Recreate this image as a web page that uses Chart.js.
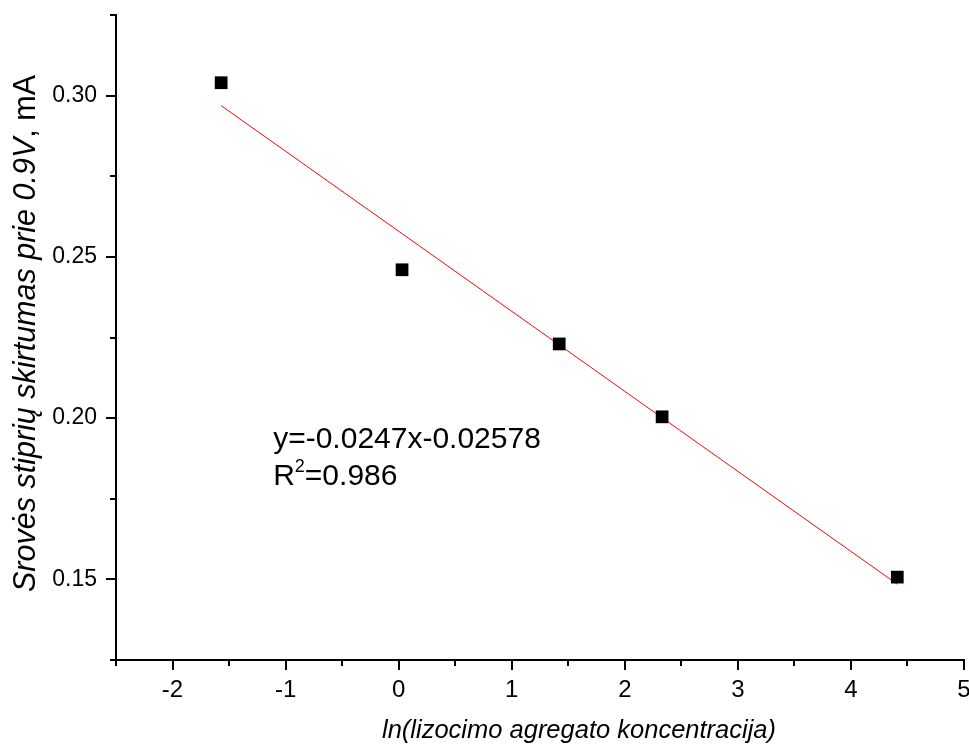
<!DOCTYPE html>
<html>
<head>
<meta charset="utf-8">
<script src="https://cdn.jsdelivr.net/npm/chart.js@4/dist/chart.umd.min.js"></script>
<style>
html,body{margin:0;padding:0;background:#fff;}
#wrap{width:969px;height:751px;position:relative;}
</style>
</head>
<body>
<div id="wrap"><canvas id="c" width="969" height="751"></canvas></div>
<script>
// ---- data ----
const xValues = [-1.57, 0.03, 1.42, 2.33, 4.41];
const yValues = [0.304, 0.246, 0.223, 0.2004, 0.1507];
const fitX = [-1.57, 4.41];
const fitY = [0.2969, 0.1485];
const xTitle = 'ln(lizocimo agregato koncentracija)';
const yTitleParts = ['Srovės stiprių skirtumas prie ', '0.9V', ', mA'];
const eqText = 'y=-0.0247x-0.02578';
const r2Parts = ['R', '2', '=0.986'];
const eqAnchor = [-1.11, 0.1906];

const FONT = "'Liberation Sans', Arial, sans-serif";
const AREA_RIGHT = 964;
const AREA_TOP = 15;

const areaFix = {
  id: 'areaFix',
  afterLayout(chart) {
    const xs = chart.scales.x, ys = chart.scales.y;
    xs.right = AREA_RIGHT;
    xs.width = xs.right - xs.left;
    xs.configure();
    ys.top = AREA_TOP;
    ys.height = ys.bottom - ys.top;
    ys.configure();
    chart.chartArea.right = AREA_RIGHT;
    chart.chartArea.width = AREA_RIGHT - chart.chartArea.left;
    chart.chartArea.top = AREA_TOP;
    chart.chartArea.height = chart.chartArea.bottom - AREA_TOP;
  }
};

const ticksPlugin = {
  id: 'customTicks',
  afterDraw(chart) {
    const ctx = chart.ctx;
    const xs = chart.scales.x, ys = chart.scales.y;
    const area = chart.chartArea;
    ctx.save();
    ctx.strokeStyle = '#000';
    ctx.lineWidth = 2;
    // x ticks
    for (let v = -2.5; v <= 5.0001; v += 0.5) {
      const px = Math.round(xs.getPixelForValue(v));
      const major = Math.abs(v - Math.round(v)) < 1e-6;
      const len = major ? 10 : 6;
      ctx.beginPath();
      ctx.moveTo(px, area.bottom);
      ctx.lineTo(px, area.bottom + len);
      ctx.stroke();
    }
    // y ticks
    for (let i = 0; i <= 8; i++) {
      const v = 0.125 + i * 0.025;
      const py = Math.round(ys.getPixelForValue(v));
      const major = i % 2 === 1;
      const len = major ? 10 : 6;
      ctx.beginPath();
      ctx.moveTo(area.left, py);
      ctx.lineTo(area.left - len, py);
      ctx.stroke();
    }
    // y title
    ctx.fillStyle = '#000';
    ctx.translate(35, (area.top + area.bottom) / 2 - 4);
    ctx.rotate(-Math.PI / 2);
    const fonts = ['italic 30.5px ' + FONT, 'italic 30.5px ' + FONT, '30.5px ' + FONT];
    let total = 0;
    const widths = yTitleParts.map((t, i) => { ctx.font = fonts[i]; const w = ctx.measureText(t).width; total += w; return w; });
    let x0 = -total / 2;
    ctx.textBaseline = 'alphabetic';
    ctx.textAlign = 'left';
    yTitleParts.forEach((t, i) => { ctx.font = fonts[i]; ctx.fillText(t, x0, 0); x0 += widths[i]; });
    ctx.restore();

    // x title
    ctx.save();
    ctx.fillStyle = '#000';
    ctx.font = 'italic 25.5px ' + FONT;
    ctx.textAlign = 'center';
    ctx.textBaseline = 'alphabetic';
    ctx.fillText(xTitle, 579, 738);
    ctx.restore();

    // equation annotation
    ctx.save();
    ctx.fillStyle = '#000';
    ctx.textBaseline = 'alphabetic';
    ctx.textAlign = 'left';
    const ax = xs.getPixelForValue(eqAnchor[0]);
    const ay = ys.getPixelForValue(eqAnchor[1]);
    ctx.font = '30px ' + FONT;
    ctx.fillText(eqText, ax, ay);
    let rx = ax;
    const ry = ay + 37;
    ctx.fillText(r2Parts[0], rx, ry); rx += ctx.measureText(r2Parts[0]).width;
    ctx.font = '18px ' + FONT;
    ctx.fillText(r2Parts[1], rx, ry - 13); rx += ctx.measureText(r2Parts[1]).width;
    ctx.font = '30px ' + FONT;
    ctx.fillText(r2Parts[2], rx, ry);
    ctx.restore();
  }
};

new Chart(document.getElementById('c'), {
  type: 'scatter',
  data: {
    datasets: [
      {
        label: 'fit',
        data: fitX.map((x, i) => ({x, y: fitY[i]})),
        showLine: true,
        borderColor: '#ff0000',
        borderWidth: 1,
        pointRadius: 0,
        order: 2
      },
      {
        label: 'data',
        data: xValues.map((x, i) => ({x, y: yValues[i]})),
        pointStyle: 'rect',
        pointRadius: 9,
        pointBackgroundColor: '#000',
        pointBorderColor: '#000',
        pointBorderWidth: 0,
        order: 1
      }
    ]
  },
  options: {
    responsive: false,
    animation: false,
    layout: { padding: { top: 15, right: 1, left: 0, bottom: 0 } },
    plugins: { legend: { display: false }, tooltip: { enabled: false } },
    scales: {
      x: {
        type: 'linear',
        min: -2.5, max: 5,
        afterFit(s) { s.height = 91; },
        ticks: {
          stepSize: 0.5,
          autoSkip: false,
          maxRotation: 0,
          padding: 6,
          color: '#000',
          font: { family: FONT, size: 24 },
          callback(v) { return Math.abs(v - Math.round(v)) < 1e-6 ? String(Math.round(v)) : ''; }
        },
        grid: { display: true, drawOnChartArea: false, drawTicks: true, tickLength: 10, tickColor: 'rgba(0,0,0,0)' },
        border: { display: true, color: '#000', width: 2 }
      },
      y: {
        type: 'linear',
        min: 0.125, max: 0.325,
        afterFit(s) { s.width = 116; s.paddingTop = 0; s.paddingBottom = 0; },
        ticks: {
          stepSize: 0.025,
          autoSkip: false,
          padding: 9,
          color: '#000',
          font: { family: FONT, size: 23 },
          callback(v) { const k = v / 0.05; return Math.abs(k - Math.round(k)) < 1e-6 ? v.toFixed(2) : ''; }
        },
        grid: { display: true, drawOnChartArea: false, drawTicks: true, tickLength: 10, tickColor: 'rgba(0,0,0,0)' },
        border: { display: true, color: '#000', width: 2 }
      }
    }
  },
  plugins: [areaFix, ticksPlugin]
});
</script>
</body>
</html>
